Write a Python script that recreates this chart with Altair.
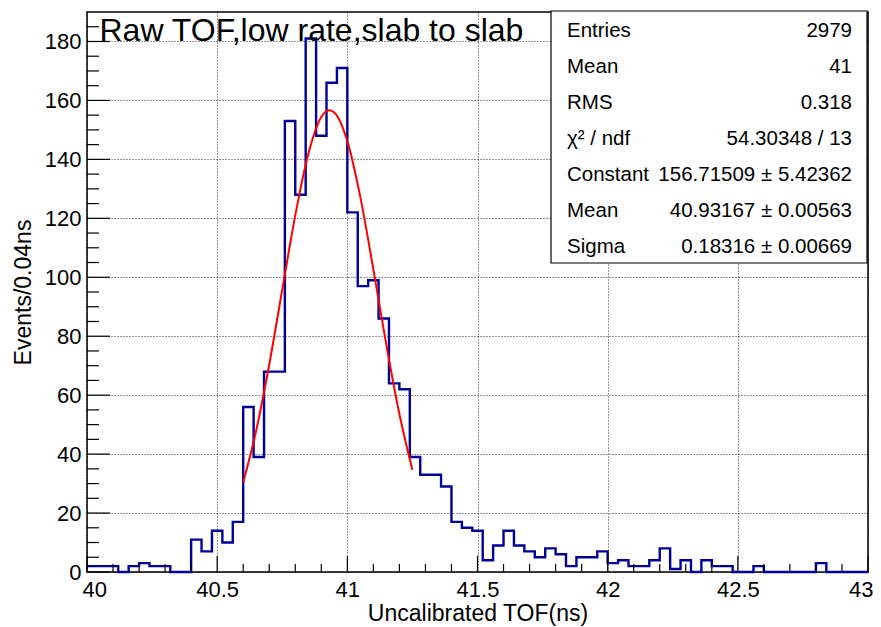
import altair as alt
import pandas as pd

# ---- data ----
bin_start = 40.0
bin_width = 0.04
counts = [2, 2, 2, 0, 2, 3, 2, 2, 0, 0,
          11, 7, 14, 10, 17, 56, 39, 68, 68, 153,
          128, 181, 148, 166, 171, 122, 97, 99, 86, 64,
          62, 39, 33, 33, 29, 17, 15, 14, 4, 9,
          14, 9, 7, 5, 8, 6, 2, 5, 5, 7,
          3, 4, 2, 2, 4, 8, 1, 4, 0, 4,
          2, 2, 0, 0, 2, 0, 0, 0, 0, 0,
          3, 0, 0, 0, 0]

fit_x = [40.60, 40.65, 40.70, 40.75, 40.80, 40.85, 40.90, 40.93, 40.95,
         41.00, 41.05, 41.10, 41.15, 41.20, 41.25]
fit_y = [30.4, 48.0, 70.4, 95.8, 121.0, 141.8, 154.4, 156.7, 155.9,
         146.2, 127.2, 102.7, 77.0, 53.6, 34.6]

x_major = [40, 40.5, 41, 41.5, 42, 42.5, 43]
x_minor = [40.1, 40.2, 40.3, 40.4, 40.6, 40.7, 40.8, 40.9, 41.1, 41.2, 41.3, 41.4,
           41.6, 41.7, 41.8, 41.9, 42.1, 42.2, 42.3, 42.4, 42.6, 42.7, 42.8, 42.9]
y_major = [0, 20, 40, 60, 80, 100, 120, 140, 160, 180]
y_minor = [5, 10, 15, 25, 30, 35, 45, 50, 55, 65, 70, 75, 85, 90, 95, 105, 110, 115,
           125, 130, 135, 145, 150, 155, 165, 170, 175, 185]

title_text = "Raw TOF,low rate,slab to slab"
x_title = "Uncalibrated TOF(ns)"
y_title = "Events/0.04ns"

stat_labels = ["Entries", "Mean", "RMS", "χ² / ndf", "Constant", "Mean", "Sigma"]
stat_values = ["2979", "41", "0.318", "54.30348 / 13", "156.71509 ± 5.42362",
               "40.93167 ± 0.00563", "0.18316 ± 0.00669"]

x_domain = [40, 43]
y_domain = [0, 190]

FONT = "Liberation Sans"
W, H = 781, 560

# ---- tables ----
edges = [round(bin_start + bin_width * i, 2) for i in range(len(counts) + 1)]
hist = pd.DataFrame({"x": edges, "y": counts + [counts[-1]]})
fit = pd.DataFrame({"x": fit_x, "y": fit_y})
one = pd.DataFrame({"a": [0]})
xmaj = pd.DataFrame({"x": x_major})
xmin = pd.DataFrame({"x": x_minor})
ymaj = pd.DataFrame({"y": y_major})
ymin = pd.DataFrame({"y": y_minor})

xs = alt.Scale(domain=x_domain, nice=False, zero=False)
ys = alt.Scale(domain=y_domain, nice=False, zero=False)

GRID = dict(grid=True, gridDash=[1, 2], gridColor="#000000", gridOpacity=0.85, gridWidth=1)

# one shared axis definition, reused by every layer so that they merge cleanly
AX = alt.Axis(
    orient="bottom", values=x_major, format="~g", ticks=False, tickSize=0,
    domain=False, **GRID,
    labelFontSize=22, labelPadding=7, labelFlush=True, labelFlushOffset=5,
    labelOverlap=False, labelColor="black", labelFont=FONT,
    title=x_title, titleFontSize=23, titleFontWeight="normal",
    titleColor="black", titleFont=FONT, titleBaseline="top", titleY=30.5)
AY = alt.Axis(
    orient="left", values=y_major, format="d", ticks=False, tickSize=0,
    domain=False, **GRID,
    labelFontSize=22, labelPadding=6, labelFlush=False, labelOverlap=False,
    labelColor="black", labelFont=FONT,
    title=y_title, titleFontSize=23, titleFontWeight="normal",
    titleColor="black", titleFont=FONT, titleBaseline="alphabetic",
    titleX=-57)

X = alt.X("x:Q", scale=xs, axis=AX)
Y = alt.Y("y:Q", scale=ys, axis=AY)

hist_layer = alt.Chart(hist).mark_line(
    interpolate="step-after", color="#000099", strokeWidth=2.4
).encode(x=X, y=Y)

fit_layer = alt.Chart(fit).mark_line(
    interpolate="monotone", color="#ff0000", strokeWidth=2
).encode(x=X, y=Y)

# inward ROOT-style ticks (positions through the shared scales)
TICK = dict(color="black", strokeWidth=1.2)
xmaj_layer = alt.Chart(xmaj).mark_rule(**TICK).encode(
    x=X, y=alt.value(H), y2=alt.value(H - 16))
xmin_layer = alt.Chart(xmin).mark_rule(**TICK).encode(
    x=X, y=alt.value(H), y2=alt.value(H - 8))
ymaj_layer = alt.Chart(ymaj).mark_rule(**TICK).encode(
    y=Y, x=alt.value(0), x2=alt.value(23))
ymin_layer = alt.Chart(ymin).mark_rule(**TICK).encode(
    y=Y, x=alt.value(0), x2=alt.value(12))

title_layer = alt.Chart(one).mark_text(
    align="left", baseline="alphabetic", fontSize=32, font=FONT, color="black"
).encode(x=alt.value(12.5), y=alt.value(28.5), text=alt.value(title_text))

box_layer = alt.Chart(one).mark_rect(
    fill="white", stroke="black", strokeWidth=1.2
).encode(x=alt.value(464), x2=alt.value(780), y=alt.value(-1), y2=alt.value(251))

layers = [hist_layer, fit_layer, xmaj_layer, xmin_layer, ymaj_layer, ymin_layer,
          title_layer, box_layer]
for i, (lab, val) in enumerate(zip(stat_labels, stat_values)):
    yy = 18.5 + 36.1 * i
    layers.append(alt.Chart(one).mark_text(
        align="left", baseline="middle", fontSize=20.5, font=FONT, color="black"
    ).encode(x=alt.value(480), y=alt.value(yy), text=alt.value(lab)))
    layers.append(alt.Chart(one).mark_text(
        align="right", baseline="middle", fontSize=20.5, font=FONT, color="black"
    ).encode(x=alt.value(765), y=alt.value(yy), text=alt.value(val)))

chart = alt.layer(*layers).properties(
    width=W, height=H,
    padding={"left": 79, "top": 4, "right": 5, "bottom": 55},
    autosize=alt.AutoSizeParams(type="none"),
    background="white",
).configure_view(stroke="black", strokeWidth=1.5)

chart.save("out.html", embed_options={"renderer": "svg", "actions": False})
